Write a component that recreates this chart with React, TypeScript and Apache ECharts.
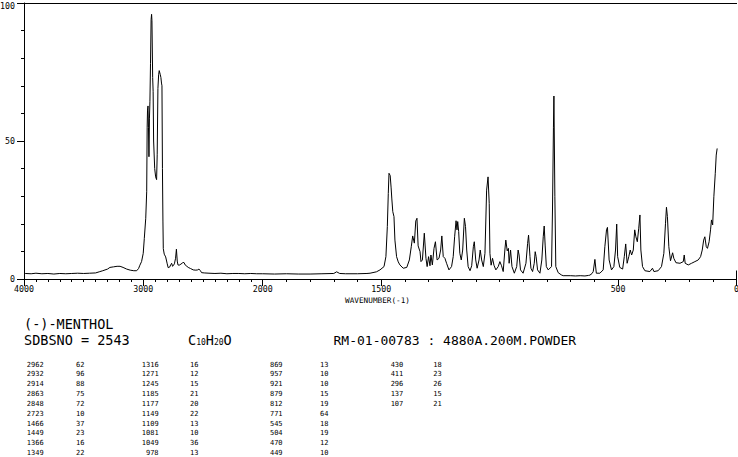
import React, { useEffect, useRef } from "react";
import * as echarts from "echarts";

// ---- Spectrum, 4000-2000 cm-1 (compressed scale) ----
const highWavenumbers = [
  3990, 3940, 3900, 3850, 3800, 3750, 3700, 3650, 3600, 3550,
  3500, 3450, 3400, 3370, 3340, 3300, 3280, 3250, 3220, 3195,
  3170, 3140, 3110, 3080, 3056, 3040, 3029, 3015, 3001, 2992,
  2980, 2972, 2968, 2965, 2961, 2957, 2953, 2949, 2945, 2940,
  2935, 2931, 2928, 2922, 2918, 2914, 2905, 2897, 2889, 2884,
  2878, 2872, 2867, 2862, 2858, 2853, 2848, 2844, 2840, 2836,
  2833, 2825, 2813, 2800, 2792, 2780, 2770, 2763, 2755, 2750,
  2740, 2730, 2723, 2716, 2710, 2700, 2685, 2670, 2660, 2648,
  2635, 2624, 2605, 2582, 2560, 2545, 2534, 2522, 2512, 2490,
  2450, 2400, 2350, 2300, 2250, 2200, 2150, 2100, 2050, 2000,
];
const highIntensities = [
  2.0, 1.9, 2.1, 1.9, 2.0, 1.8, 2.0, 1.9, 2.0, 2.1,
  2.0, 2.1, 2.2, 2.6, 3.0, 3.6, 4.2, 4.4, 4.6, 4.6,
  4.2, 3.6, 3.2, 3.0, 3.0, 3.8, 5.0, 6.3, 9.3, 14.7,
  22, 31.6, 55, 61.2, 62.7, 55, 44.3, 58, 64.2, 78,
  94, 95.9, 93.6, 73, 68, 50, 40, 37, 36, 45,
  69, 74, 75.5, 75.6, 74, 73, 71, 70, 40, 21,
  11, 9, 8, 5.5, 4.1, 4.3, 5.2, 5.7, 4.6, 4.8,
  5.5, 7.5, 10.8, 6.5, 5.1, 5.0, 5.4, 5.9, 6.0, 5.0,
  4.6, 4.2, 3.8, 3.3, 3.2, 3.3, 3.6, 3.0, 2.3, 2.2,
  2.1, 2.0, 2.1, 1.9, 2.0, 2.0, 1.9, 2.0, 1.9, 1.9,
];

// ---- Spectrum, 2000-0 cm-1 (expanded scale) ----
const lowWavenumbers = [
  2000, 1950, 1900, 1850, 1800, 1750, 1700, 1688, 1675, 1650,
  1600, 1560, 1547, 1520, 1505, 1488, 1480, 1474, 1470, 1467,
  1462, 1458, 1455, 1451, 1446, 1442, 1435, 1428, 1421, 1407,
  1392, 1381, 1373, 1367, 1360, 1354, 1349, 1344, 1336, 1332,
  1326, 1318, 1311, 1306, 1300, 1294, 1290, 1284, 1277, 1271,
  1264, 1256, 1249, 1244, 1238, 1231, 1224, 1214, 1203, 1196,
  1190, 1184, 1180, 1177, 1173, 1168, 1162, 1156, 1149, 1144,
  1139, 1133, 1125, 1118, 1111, 1107, 1101, 1095, 1087, 1082,
  1076, 1069, 1062, 1055, 1049, 1044, 1041, 1036, 1030, 1024,
  1016, 1006, 999, 992, 985, 978, 974, 968, 963, 960,
  954, 948, 938, 928, 922, 918, 912, 901, 889, 882,
  878, 872, 868, 861, 854, 850, 846, 840, 830, 822,
  816, 812, 808, 803, 795, 781, 777, 773, 771, 767,
  763, 753, 740, 732, 700, 680, 660, 640, 625, 619,
  610, 605, 598, 592, 577, 563, 556, 549, 545, 538,
  528, 518, 511, 506, 502, 493, 481, 474, 468, 462,
  455, 449, 443, 436, 430, 425, 419, 413, 408, 404,
  397, 387, 366, 355, 349, 331, 317, 307, 300, 296,
  292, 286, 279, 270, 265, 256, 239, 225, 221, 217,
  204, 190, 176, 162, 152, 145, 139, 134, 128, 123,
  116, 110, 106, 101, 96, 90, 86, 82,
];
const lowIntensities = [
  1.9, 1.8, 1.9, 1.8, 1.8, 1.9, 2.0, 2.6, 2.0, 1.9,
  1.9, 2.0, 2.1, 2.6, 3.3, 4.5, 8.1, 19, 31, 38.3,
  37.5, 33, 29, 24.4, 22.6, 14.1, 8.1, 6.2, 5.1, 3.9,
  4.2, 6.9, 11.7, 15.6, 13, 21, 22, 12, 9.9, 6.3,
  6.9, 16.6, 7.5, 4.5, 8.1, 4.8, 8.7, 5.1, 11.1, 13.5,
  6.9, 7.5, 10.5, 15.6, 8.1, 7.5, 5.7, 3.3, 4.5, 8.1,
  15.3, 21.1, 17.8, 20.8, 17.2, 9.3, 6.9, 10.5, 22, 19,
  10.5, 4.5, 3.0, 4.8, 11.7, 13.5, 6.9, 3.9, 6.9, 10.5,
  6.9, 4.5, 9.3, 32.2, 37, 27.4, 9.3, 5.0, 7.5, 5.0,
  3.3, 4.5, 6.3, 4.8, 2.7, 10.5, 14.1, 10.2, 11.1, 5.7,
  10.5, 4.5, 2.1, 4.5, 10.5, 8.7, 3.3, 2.1, 5.7, 12.9,
  15.9, 8.1, 3.9, 2.7, 5.7, 9.9, 8.1, 3.3, 2.1, 6.9,
  15.3, 19.2, 12.3, 4.5, 3.3, 4.5, 25, 55, 66.3, 29.8,
  4.5, 2.3, 1.5, 1.2, 1.2, 1.1, 1.2, 1.1, 1.3, 1.4,
  2.0, 2.7, 7.1, 2.1, 2.1, 3.3, 11.7, 17.8, 18.7, 6.9,
  3.3, 4.5, 10.5, 19.9, 8.1, 4.2, 3.6, 8.1, 12.7, 5.7,
  8.1, 10.5, 8.7, 10.5, 17.8, 15.3, 13.5, 18.4, 23.2, 10.5,
  4.5, 3.0, 2.7, 3.9, 2.7, 3.0, 4.5, 9.3, 20.2, 26,
  22.6, 11.7, 6.6, 9.5, 7.5, 5.9, 5.7, 6.3, 8.7, 5.7,
  5.1, 5.7, 6.3, 6.9, 8.1, 10.5, 14.1, 15.3, 11.7, 11.1,
  13.5, 17.8, 21.4, 19.6, 29.8, 38.3, 44.9, 47.3,
];

// ---- Axis tick labels ----
const highAxisLabels = [4000, 3000, 2000];
const lowAxisLabels = [1500, 500, 0];
const yAxisLabels = [0, 50, 100];

// ---- Peak table ----
const peakWavenumbers = [
  2962, 2932, 2914, 2863, 2848, 2723, 1466, 1449, 1366, 1349,
  1316, 1271, 1245, 1185, 1177, 1149, 1109, 1081, 1049, 978,
  869, 957, 921, 879, 812, 771, 545, 504, 470, 449,
  430, 411, 296, 137, 107,
];
const peakIntensities = [
  62, 96, 88, 75, 72, 10, 37, 23, 16, 22,
  16, 12, 15, 21, 20, 22, 13, 10, 36, 13,
  13, 10, 10, 15, 19, 64, 18, 19, 12, 10,
  18, 23, 26, 15, 21,
];

// ---- Header texts ----
const compoundName = "(-)-MENTHOL";
const sdbsLine = "SDBSNO = 2543";
const formulaParts = ["C", "10", "H", "20", "O"];
const sampleLine = "RM-01-00783 : 4880A.200M.POWDER";
const xAxisTitle = "WAVENUMBER(-1)";

const MONO = '"DejaVu Sans Mono", monospace';
const BLACK = "#000";

export default function App() {
  const ref = useRef<HTMLDivElement>(null);

  useEffect(() => {
    if (!ref.current) return;
    const chart = echarts.init(ref.current, null, { renderer: "svg" });

    const lineStyle = { color: BLACK, width: 1 };
    const axisLabelBase = {
      fontSize: 8.3, fontFamily: MONO, color: BLACK,
      formatter: (v: number) => String(v),
    };

    const makeXAxes = (grid: number, min: number, max: number, labels: number[]) => [
      {
        type: "value", gridIndex: grid, min, max, inverse: true, interval: 100, position: "bottom",
        axisLine: { show: true, onZero: false, lineStyle },
        axisTick: { show: true, length: 3, inside: false, lineStyle },
        axisLabel: { show: false }, splitLine: { show: false },
      },
      {
        type: "value", gridIndex: grid, min, max, inverse: true, position: "bottom",
        axisLine: { show: false, onZero: false },
        axisTick: { show: true, length: 7, customValues: labels, lineStyle },
        axisLabel: { show: true, customValues: labels, margin: 6, ...axisLabelBase },
        splitLine: { show: false },
      },
      {
        type: "value", gridIndex: grid, min, max, inverse: true, position: "top",
        axisLine: { show: true, onZero: false, lineStyle },
        axisTick: { show: false }, axisLabel: { show: false }, splitLine: { show: false },
      },
    ];

    const graphics: any[] = [];
    const txt = (text: string, x: number, y: number, size: number, align = "left") => ({
      type: "text", x, y, silent: true,
      style: {
        text, fontSize: size, fontFamily: MONO, fill: BLACK, align, verticalAlign: "middle",
        lineHeight: Math.round(size * 0.85),
      },
    });

    graphics.push(txt(xAxisTitle, 377.5, 300.5, 7.7, "center"));
    graphics.push(txt(compoundName, 24, 323.5, 13.5));
    graphics.push(txt(sdbsLine, 24, 340, 13.5));
    graphics.push({
      type: "text", x: 188, y: 340, silent: true,
      style: {
        text: formulaParts.map((p, i) => (i % 2 === 0 ? `{n|${p}}` : `{s|${p}}`)).join(""),
        fontFamily: MONO, fill: BLACK, verticalAlign: "middle",
        rich: {
          n: { fontSize: 13.5, fontFamily: MONO, lineHeight: 12, verticalAlign: "middle" },
          s: { fontSize: 8, fontFamily: MONO, lineHeight: 7, verticalAlign: "bottom" },
        },
      },
    });
    graphics.push(txt(sampleLine, 333.5, 340, 13));

    const wnRight = [43.6, 158.6, 282.6, 403.3];
    const intLeft = [76, 190, 320, 433.3];
    peakWavenumbers.forEach((w, i) => {
      const col = Math.floor(i / 10);
      const row = i % 10;
      const y = 364.5 + row * 9.85;
      graphics.push(txt(String(w), wnRight[col], y, 7, "right"));
      graphics.push(txt(String(peakIntensities[i]), intLeft[col], y, 7, "left"));
    });
    graphics.push({
      type: "line", silent: true,
      shape: { x1: 736.5, y1: 270.5, x2: 736.5, y2: 279 },
      style: { stroke: BLACK, lineWidth: 1 },
    });

    const option: any = {
      animation: false,
      backgroundColor: "#fff",
      grid: [
        { left: 24, top: 3, width: 238.7, height: 276, outerBoundsMode: "none", containLabel: false },
        { left: 262.7, top: 3, width: 473.9, height: 276, outerBoundsMode: "none", containLabel: false },
      ],
      xAxis: [
        ...makeXAxes(0, 2000, 4000, highAxisLabels),
        ...makeXAxes(1, 0, 2000, lowAxisLabels),
      ],
      yAxis: [
        {
          type: "value", gridIndex: 0, min: 0, max: 100, interval: 10, position: "left",
          axisLine: { show: true, onZero: false, lineStyle },
          axisTick: { show: true, length: 3, lineStyle },
          axisLabel: { show: false }, splitLine: { show: false },
        },
        {
          type: "value", gridIndex: 0, min: 0, max: 100, position: "left",
          axisLine: { show: false, onZero: false },
          axisTick: { show: true, length: 7, customValues: yAxisLabels, lineStyle },
          axisLabel: {
            show: true, customValues: yAxisLabels, margin: 9, ...axisLabelBase,
            formatter: (v: number) => (v === 100 ? `{t|${v}}` : String(v)),
            rich: { t: { fontSize: 8.3, fontFamily: MONO, color: BLACK, padding: [6, 0, 0, 0] } },
          },
          splitLine: { show: false },
        },
        {
          type: "value", gridIndex: 1, min: 0, max: 100, show: false,
          axisLine: { onZero: false }, splitLine: { show: false },
        },
      ],
      series: [
        {
          type: "line", xAxisIndex: 0, yAxisIndex: 0, symbol: "none", showSymbol: false, silent: true,
          lineStyle: { color: BLACK, width: 1 },
          data: highWavenumbers.map((w, i) => [w, highIntensities[i]]),
        },
        {
          type: "line", xAxisIndex: 3, yAxisIndex: 2, symbol: "none", showSymbol: false, silent: true,
          lineStyle: { color: BLACK, width: 1 },
          data: lowWavenumbers.map((w, i) => [w, lowIntensities[i]]),
        },
      ],
      graphic: graphics,
    };

    chart.setOption(option);
    return () => chart.dispose();
  }, []);

  return (
    <div
      ref={ref}
      style={{ position: "absolute", left: 0, top: 0, width: 738, height: 457, background: "#fff" }}
    />
  );
}
